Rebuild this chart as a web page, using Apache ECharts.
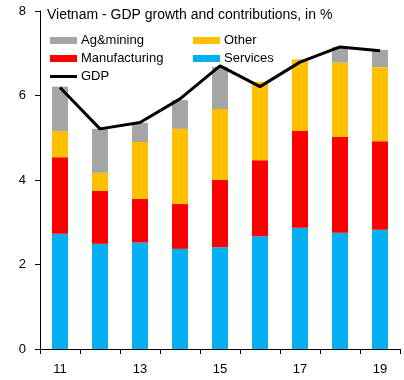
<!DOCTYPE html>
<html><head><meta charset="utf-8">
<script src="https://cdn.jsdelivr.net/npm/echarts@6/dist/echarts.min.js"></script>
<style>html,body{margin:0;padding:0;background:#fff}#c{width:404px;height:380px}</style>
</head><body><div id="c"></div>
<script>
const categories = ['11','12','13','14','15','16','17','18','19'];
const services = [2.73, 2.49, 2.52, 2.37, 2.41, 2.67, 2.87, 2.75, 2.82];
const manufacturing = [1.81, 1.25, 1.03, 1.06, 1.59, 1.80, 2.29, 2.27, 2.10];
const other = [0.62, 0.43, 1.35, 1.78, 1.68, 1.85, 1.70, 1.76, 1.75];
const agMining = [1.05, 1.04, 0.45, 0.68, 1.00, 0, 0, 0.37, 0.41];
const gdp = [6.19, 5.21, 5.36, 5.92, 6.70, 6.21, 6.79, 7.15, 7.06];

const FONT = 'Liberation Sans';
const chart = echarts.init(document.getElementById('c'), null, {renderer: 'canvas'});
function lg(name, left, top, h) {
  return {data: [{name: name, icon: 'rect'}], left: left, top: top, itemWidth: 27, itemHeight: h || 7, itemGap: 0,
    textStyle: {fontFamily: FONT, fontSize: 13, color: '#000', padding: [0,0,0,-1]}, padding: 0, selectedMode: false};
}
chart.setOption({
  animation: false,
  title: {text: 'Vietnam - GDP growth and contributions, in %', left: 47, top: 8, padding: 0,
    textStyle: {fontFamily: FONT, fontSize: 14, fontWeight: 'normal', color: '#000'}},
  legend: [lg('Ag&mining', 50, 34), lg('Other', 193, 34), lg('Manufacturing', 50, 52), lg('Services', 193, 52), lg('GDP', 50, 70, 3)],
  grid: {left: 40, right: 4, top: 11, bottom: 31, containLabel: false},
  xAxis: {type: 'category', data: categories, boundaryGap: true,
    axisLine: {lineStyle: {color: '#000', width: 1}},
    axisTick: {show: true, interval: 0, length: 5, lineStyle: {color: '#000'}},
    axisLabel: {interval: 1, margin: 14, fontFamily: FONT, fontSize: 13, color: '#000'}},
  yAxis: {type: 'value', min: 0, max: 8, interval: 2,
    axisLine: {show: true, lineStyle: {color: '#000', width: 1}},
    axisTick: {show: true, length: 5, inside: false, lineStyle: {color: '#000'}},
    splitLine: {show: false},
    axisLabel: {margin: 14, fontFamily: FONT, fontSize: 13, color: '#000'}},
  series: [
    {name: 'Services', type: 'bar', stack: 's', data: services, barWidth: 16, itemStyle: {color: '#00B0F0'}},
    {name: 'Manufacturing', type: 'bar', stack: 's', data: manufacturing, itemStyle: {color: '#FF0000'}},
    {name: 'Other', type: 'bar', stack: 's', data: other, itemStyle: {color: '#FFC000'}},
    {name: 'Ag&mining', type: 'bar', stack: 's', data: agMining, itemStyle: {color: '#A5A5A5'}},
    {name: 'GDP', type: 'line', data: gdp, symbol: 'none', lineStyle: {color: '#000', width: 3}, itemStyle: {color: '#000'}, z: 5}
  ]
});
</script></body></html>
